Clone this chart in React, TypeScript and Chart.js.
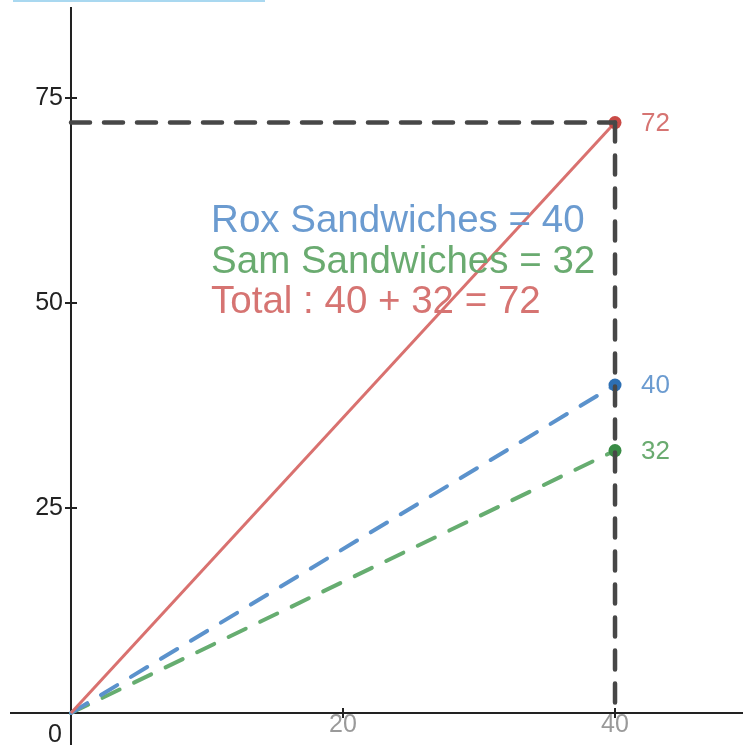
import React, { useEffect, useRef } from "react";
import { Chart, registerables } from "chart.js";

Chart.register(...registerables);

// ---- data ----
const xValues = [0, 40];
const roxValues = [0, 40];
const samValues = [0, 32];
const totalValues = [0, 72];
const guideHorizontalX = [0, 40];
const guideVerticalY = [72, 0];
const yTickValues = [25, 50, 75];
const xTickValues = [20, 40];
const annotationLines = ["Rox Sandwiches = 40", "Sam Sandwiches = 32", "Total : 40 + 32 = 72"];
const endLabels = ["40", "32", "72"];

const RED = "#d9716f";
const BLUE = "#5b92cc";
const GREEN = "#66ad70";
const RED_TEXT = "#d67472";
const BLUE_TEXT = "#6b9bd0";
const GREEN_TEXT = "#6aab70";
const GUIDE = "#474747";

const annotationX = 10.3;
const annotationY = 58.6;

const overlayPlugin = {
  id: "overlay",
  beforeDatasetsDraw(chart: any) {
    const { ctx, scales } = chart;
    const xs = scales.x;
    const ys = scales.y;
    const x0 = xs.getPixelForValue(0);
    const y0 = ys.getPixelForValue(0);
    ctx.save();
    // top decorative bar
    ctx.strokeStyle = "#a9d8f0";
    ctx.lineWidth = 2;
    ctx.beginPath();
    ctx.moveTo(13, 1);
    ctx.lineTo(265, 1);
    ctx.stroke();
    // axes
    ctx.strokeStyle = "#222";
    ctx.lineWidth = 2;
    ctx.beginPath();
    ctx.moveTo(10, y0);
    ctx.lineTo(chart.width, y0);
    ctx.moveTo(x0, 7);
    ctx.lineTo(x0, 745);
    ctx.stroke();
    // y ticks
    ctx.font = "25px 'Liberation Sans', Arial, sans-serif";
    ctx.fillStyle = "#222";
    ctx.textAlign = "right";
    ctx.textBaseline = "middle";
    for (const v of yTickValues) {
      const py = ys.getPixelForValue(v);
      ctx.beginPath();
      ctx.moveTo(x0 - 6, py);
      ctx.lineTo(x0 + 6, py);
      ctx.stroke();
      ctx.fillText(String(v), x0 - 8, py);
    }
    ctx.textAlign = "center";
    ctx.fillText("0", x0 - 16, y0 + 22);
    // x ticks
    ctx.fillStyle = "#9a9a9a";
    for (const v of xTickValues) {
      const px = xs.getPixelForValue(v);
      ctx.strokeStyle = "#222";
      ctx.beginPath();
      ctx.moveTo(px, y0 - 5);
      ctx.lineTo(px, y0 + 5);
      ctx.stroke();
      ctx.fillText(String(v), px, y0 + 12);
    }
    ctx.restore();
  },
  afterDatasetsDraw(chart: any) {
    const { ctx, scales } = chart;
    const xs = scales.x;
    const ys = scales.y;
    ctx.save();
    // end labels
    ctx.font = "26px 'Liberation Sans', Arial, sans-serif";
    ctx.textAlign = "left";
    ctx.textBaseline = "middle";
    const lx = xs.getPixelForValue(xValues[1]) + 26;
    const endVals = [roxValues[1], samValues[1], totalValues[1]];
    const endCols = [BLUE_TEXT, GREEN_TEXT, RED_TEXT];
    endLabels.forEach((t, i) => {
      ctx.fillStyle = endCols[i];
      ctx.fillText(t, lx, ys.getPixelForValue(endVals[i]) + 1);
    });
    // annotation
    ctx.font = "38.5px 'Liberation Sans', Arial, sans-serif";
    ctx.textBaseline = "alphabetic";
    const ax = xs.getPixelForValue(annotationX);
    const baseY = ys.getPixelForValue(annotationY);
    const cols = [BLUE_TEXT, GREEN_TEXT, RED_TEXT];
    annotationLines.forEach((t, i) => {
      ctx.fillStyle = cols[i];
      ctx.fillText(t, ax, baseY + i * 40.5);
    });
    ctx.restore();
  },
};

export default function App() {
  const ref = useRef<HTMLCanvasElement | null>(null);
  useEffect(() => {
    document.body.style.margin = "0";
    const canvas = ref.current!;
    const pts = (ys: number[]) => xValues.map((x, i) => ({ x, y: ys[i] }));
    const guideStyle = {
      borderColor: GUIDE,
      borderWidth: 4.5,
      borderDash: [19, 14],
      borderCapStyle: "round" as const,
      pointRadius: 0,
      order: 0,
    };
    const chart = new Chart(canvas, {
      type: "line",
      data: {
        datasets: [
          {
            data: guideHorizontalX.map((x) => ({ x, y: totalValues[1] })),
            ...guideStyle,
          },
          {
            data: guideVerticalY.map((y) => ({ x: xValues[1], y })),
            ...guideStyle,
          },
          {
            data: pts(totalValues),
            borderColor: RED,
            borderWidth: 3,
            pointRadius: [0, 6.5],
            pointBackgroundColor: "#c94a46",
            pointBorderWidth: 0,
            order: 1,
          },
          {
            data: pts(roxValues),
            borderColor: BLUE,
            borderWidth: 4,
            borderDash: [19, 16],
            borderCapStyle: "round",
            pointRadius: [0, 6.5],
            pointBackgroundColor: "#2d6fb3",
            pointBorderWidth: 0,
            order: 2,
          },
          {
            data: pts(samValues),
            borderColor: GREEN,
            borderWidth: 4,
            borderDash: [19, 16],
            borderCapStyle: "round",
            pointRadius: [0, 6.5],
            pointBackgroundColor: "#3a8c46",
            pointBorderWidth: 0,
            order: 3,
          },
        ],
      },
      options: {
        animation: false,
        responsive: false,
        maintainAspectRatio: false,
        layout: { padding: 0, autoPadding: false },
        plugins: { legend: { display: false }, tooltip: { enabled: false } },
        scales: {
          x: { type: "linear", min: -5.22, max: 49.41, display: false },
          y: { type: "linear", min: -4.51, max: 86.95, display: false },
        },
      },
      plugins: [overlayPlugin],
    });
    return () => chart.destroy();
  }, []);
  return (
    <div style={{ position: "absolute", left: 0, top: 0, width: 743, height: 750, background: "#fff" }}>
      <canvas ref={ref} width={743} height={750} style={{ display: "block" }} />
    </div>
  );
}
